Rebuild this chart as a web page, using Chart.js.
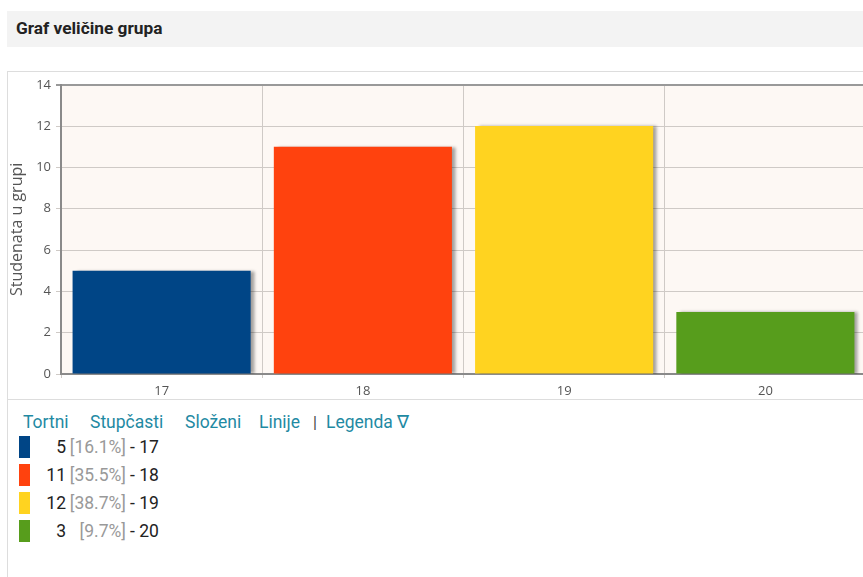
<!DOCTYPE html>
<html>
<head>
<meta charset="utf-8">
<script src="https://cdn.jsdelivr.net/npm/chart.js@4"></script>
<style>
  body { margin: 0; width: 863px; height: 577px; overflow: hidden; background: #fff; font-family: Roboto, sans-serif; position: relative; }
  .head { position: absolute; left: 7px; top: 11px; width: 870px; height: 36px; background: #f3f3f3; }
  .head span { position: absolute; left: 9px; top: 7px; font-weight: bold; font-size: 17.3px; color: #222; }
  .box { position: absolute; left: 7px; top: 71px; width: 880px; height: 520px; border-top: 1px solid #ddd; border-left: 1px solid #ddd; }
  .chart-wrap { position: absolute; left: 0; top: 0; width: 858px; height: 327px; border-bottom: 1px solid #ddd; }
  .links { position: absolute; left: 0; top: 340px; font-size: 17.5px; color: #1f8aa3; white-space: nowrap; }
  .links span { position: absolute; top: 0; }
  .links .sep { color: #444; font-size: 16px; top: 1px; }
  .legend { position: absolute; left: 11px; top: 363px; font-size: 17.5px; color: #222; }
  .row { position: relative; height: 28px; }
  .sw { position: absolute; left: 0; top: 1px; width: 11px; height: 22px; }
  .num { position: absolute; left: 10px; width: 37px; top: 2px; text-align: right; }
  .pct { position: absolute; left: 41px; width: 66px; top: 2px; text-align: right; color: #999; }
  .rest { position: absolute; left: 111px; top: 2px; white-space: nowrap; }
</style>
</head>
<body>
<div class="head"><span>Graf veličine grupa</span></div>
<div class="box">
  <div class="chart-wrap"><canvas id="myChart" width="858" height="327"></canvas></div>
  <div class="links">
    <span style="left:15px">Tortni</span>
    <span style="left:82px">Stupčasti</span>
    <span style="left:177px">Složeni</span>
    <span style="left:251px">Linije</span>
    <span class="sep" style="left:305px">|</span>
    <span style="left:318px">Legenda ∇</span>
  </div>
  <div class="legend" id="legend"></div>
</div>
<script>
const categories = ['17', '18', '19', '20'];
const counts = [5, 11, 12, 3];
const barColors = ['#004586', '#ff420e', '#ffd320', '#579d1c'];
const yTicks = [0, 2, 4, 6, 8, 10, 12, 14];

// legend rows under the chart
const total = counts.reduce(function(a, b) { return a + b; }, 0);
const legendEl = document.getElementById('legend');
categories.forEach(function(cat, i) {
  const pct = (counts[i] / total * 100).toFixed(1);
  const row = document.createElement('div');
  row.className = 'row';
  row.innerHTML = '<div class="sw" style="background:' + barColors[i] + '"></div>' +
    '<div class="num">' + counts[i] + '</div>' +
    '<div class="pct">[' + pct + '%]</div>' +
    '<div class="rest">- ' + cat + '</div>';
  legendEl.appendChild(row);
});

const plotBg = {
  id: 'plotBg',
  beforeDraw: function(chart) {
    const a = chart.chartArea;
    chart.ctx.save();
    chart.ctx.fillStyle = '#fdf8f4';
    chart.ctx.fillRect(a.left, a.top, a.right - a.left, a.bottom - a.top);
    chart.ctx.restore();
  }
};

const barShadow = {
  id: 'barShadow',
  beforeDatasetsDraw: function(chart) {
    const ctx = chart.ctx;
    ctx.save();
    ctx.shadowColor = 'rgba(0,0,0,0.35)';
    ctx.shadowOffsetX = 4;
    ctx.shadowOffsetY = 0;
    ctx.shadowBlur = 3;
  },
  afterDatasetsDraw: function(chart) {
    chart.ctx.restore();
  }
};

var ctx = document.getElementById('myChart').getContext('2d');
var chart = new Chart(ctx, { // eslint-disable-line
  type: 'bar',
  data: {
    labels: categories,
    datasets: [{
      data: counts,
      backgroundColor: barColors,
      borderWidth: 0,
      barPercentage: 0.885,
      categoryPercentage: 1
    }]
  },
  options: {
    responsive: false,
    animation: false,
    layout: { padding: { top: 11, right: 0, left: 0, bottom: 0 } },
    plugins: { legend: { display: false }, tooltip: { enabled: false } },
    scales: {
      x: {
        afterFit: function(s) { s.height = 25; },
        grid: { color: '#cfcac6', tickLength: 4, offset: true },
        border: { color: '#8a8a8a', width: 2 },
        ticks: { color: '#555', font: { family: 'Open Sans', size: 13 }, padding: 5 }
      },
      y: {
        min: 0,
        max: 14,
        afterFit: function(s) { s.width = 53; },
        afterBuildTicks: function(s) { s.ticks = yTicks.map(function(v) { return { value: v }; }); },
        grid: {
          color: function(c) { return c.tick && c.tick.value === 14 ? '#999' : '#cfcac6'; },
          lineWidth: function(c) { return c.tick && c.tick.value === 14 ? 2 : 1; },
          tickLength: 5
        },
        border: { color: '#8a8a8a', width: 2 },
        ticks: { color: '#555', font: { family: 'Open Sans', size: 13 }, padding: 5 },
        title: { display: true, text: 'Studenata u grupi', color: '#555', font: { family: 'Open Sans', size: 16 }, padding: 0 }
      }
    }
  },
  plugins: [plotBg, barShadow]
});
</script>
</body>
</html>
